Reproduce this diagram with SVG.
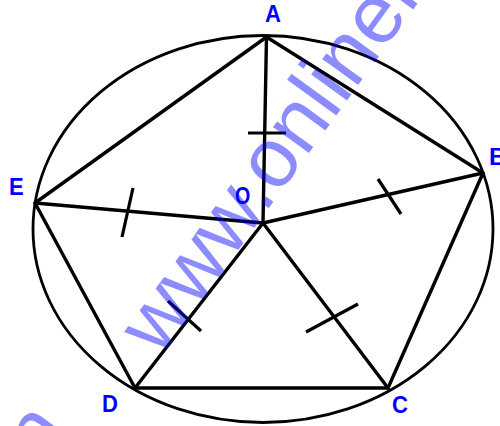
<svg xmlns="http://www.w3.org/2000/svg" width="500" height="426" viewBox="0 0 500 426">
<style>
.ln{stroke:#000;stroke-width:3.4;stroke-linecap:round;stroke-linejoin:round;fill:none}
.cir{stroke:#000;stroke-width:2.8;fill:none}
.tk{stroke:#000;stroke-width:3.2;stroke-linecap:butt}
.lb{font-family:"Liberation Sans",Arial,sans-serif;font-weight:bold;font-size:24px;fill:#0000ff}
.wm{font-family:"Liberation Sans",Arial,sans-serif;font-size:84px;fill:#0000ff;fill-opacity:0.45}
</style>
<rect width="500" height="426" fill="#fff"/>
<g id="circle"><ellipse class="cir" cx="263" cy="229" rx="230" ry="193.5"/></g>
<g id="connectors">
<polygon class="ln" points="266.5,37 483,173 388,388 135,388 35,203"/>
<line class="ln" x1="263" y1="223" x2="266.5" y2="37"/>
<line class="ln" x1="263" y1="223" x2="483" y2="173"/>
<line class="ln" x1="263" y1="223" x2="388" y2="388"/>
<line class="ln" x1="263" y1="223" x2="135" y2="388"/>
<line class="ln" x1="263" y1="223" x2="35" y2="203"/>
</g>
<g id="ticks">
<line class="tk" x1="248" y1="133" x2="286" y2="133"/>
<line class="tk" x1="133" y1="188" x2="122" y2="237"/>
<line class="tk" x1="378" y1="179" x2="401" y2="214"/>
<line class="tk" x1="168" y1="301" x2="201" y2="331"/>
<line class="tk" x1="306" y1="332" x2="358" y2="304"/>
</g>
<g id="A"><text class="lb" x="265" y="22" transform="translate(265 0) scale(0.92 1) translate(-265 0)">A</text></g>
<g id="B"><text class="lb" x="489" y="165">B</text></g>
<g id="C"><text class="lb" x="392" y="413" transform="translate(392 0) scale(0.92 1) translate(-392 0)">C</text></g>
<g id="D"><text class="lb" x="102" y="412" transform="translate(102 0) scale(0.92 1) translate(-102 0)">D</text></g>
<g id="E"><text class="lb" x="9" y="195" transform="translate(9 0) scale(0.92 1) translate(-9 0)">E</text></g>
<g id="O"><text class="lb" x="235" y="204" transform="translate(235 0) scale(0.82 1) translate(-235 0)">O</text></g>
<g id="watermark">
<text class="wm" transform="translate(160,358) rotate(-54)">www.onlinem</text>
<text class="wm" transform="translate(42,468) rotate(-54)">n</text>
</g>
</svg>
